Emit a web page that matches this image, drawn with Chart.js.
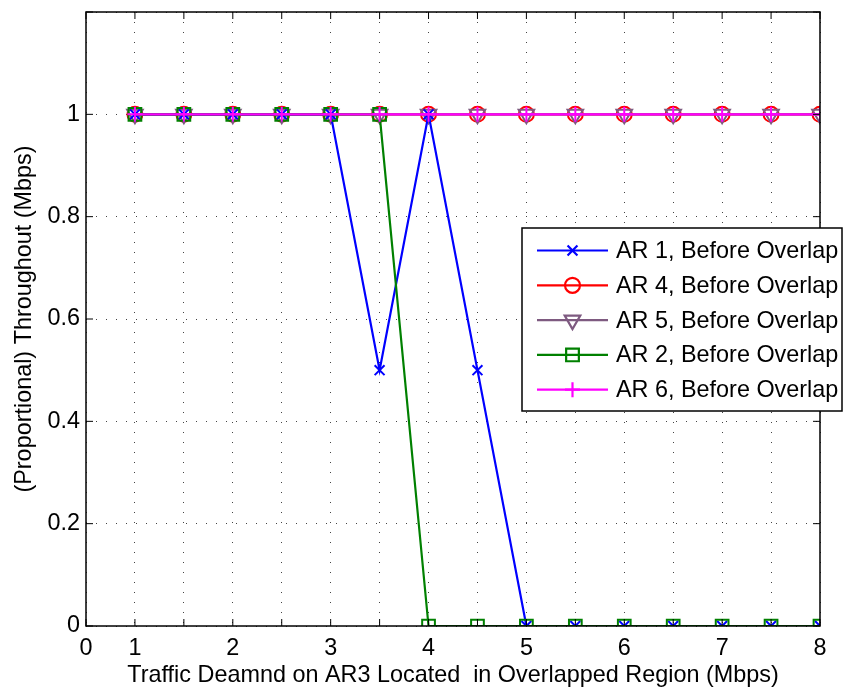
<!DOCTYPE html>
<html>
<head>
<meta charset="utf-8">
<style>
    body { margin: 0; background: #fff; }
    #wrap { width: 843px; height: 693px; }
</style>
<script src="https://cdn.jsdelivr.net/npm/chart.js@4/dist/chart.umd.min.js"></script>
</head>
<body>
<div id="wrap"><canvas id="throughputChart" width="843" height="693"></canvas></div>
<script>
const fontFamily = "'Liberation Sans', Arial, Helvetica, sans-serif";

// traffic demand on AR3 (Mbps)
const demand = [1, 1.5, 2, 2.5, 3, 3.5, 4, 4.5, 5, 5.5, 6, 6.5, 7, 7.5, 8];

const ar1 = [1, 1, 1, 1, 1, 0.5, 1, 0.5, 0, 0, 0, 0, 0, 0, 0];
const ar4 = [1, 1, 1, 1, 1, 1, 1, 1, 1, 1, 1, 1, 1, 1, 1];
const ar5 = [1, 1, 1, 1, 1, 1, 1, 1, 1, 1, 1, 1, 1, 1, 1];
const ar2 = [1, 1, 1, 1, 1, 1, 0, 0, 0, 0, 0, 0, 0, 0, 0];
const ar6 = [1, 1, 1, 1, 1, 1, 1, 1, 1, 1, 1, 1, 1, 1, 1];

const seriesNames = [
    "AR 1, Before Overlap",
    "AR 4, Before Overlap",
    "AR 5, Before Overlap",
    "AR 2, Before Overlap",
    "AR 6, Before Overlap"
];

const xTickValues = [0.5, 1, 1.5, 2, 2.5, 3, 3.5, 4, 4.5, 5, 5.5, 6, 6.5, 7, 7.5, 8];
const xTickLabels = ["0", "1", "", "2", "", "3", "", "4", "", "5", "", "6", "", "7", "", "8"];
const yTickValues = [0, 0.2, 0.4, 0.6, 0.8, 1, 1.2];
const yTickLabels = ["0", "0.2", "0.4", "0.6", "0.8", "1", ""];

function toPoints(values) {
    return values.map((v, i) => ({ x: demand[i], y: v }));
}

function series(label, values, color, style, radius, order, rotation) {
    return {
        label: label,
        data: toPoints(values),
        borderColor: color,
        backgroundColor: color,
        borderWidth: 2.2,
        pointStyle: style,
        pointRadius: radius,
        pointHoverRadius: radius,
        pointRotation: rotation || 0,
        pointBorderColor: color,
        pointBackgroundColor: "rgba(0,0,0,0)",
        pointBorderWidth: 2,
        tension: 0,
        fill: false,
        order: order
    };
}

function noPadding(scale) {
    scale.paddingTop = 0;
    scale.paddingBottom = 0;
    scale.paddingLeft = 0;
    scale.paddingRight = 0;
}

// box, inward ticks and legend, matlab style
const frameAndLegend = {
    id: "frameAndLegend",
    afterDraw(chart) {
        const ctx = chart.ctx;
        const area = chart.chartArea;
        const xs = chart.scales.x;
        const ys = chart.scales.y;
        ctx.save();
        ctx.strokeStyle = "#000";
        ctx.lineWidth = 1.5;
        ctx.setLineDash([]);
        ctx.strokeRect(area.left, area.top, area.right - area.left, area.bottom - area.top);

        ctx.lineWidth = 1;
        ctx.beginPath();
        xTickValues.forEach((v) => {
            const px = xs.getPixelForValue(v);
            ctx.moveTo(px, area.bottom); ctx.lineTo(px, area.bottom - 7);
            ctx.moveTo(px, area.top); ctx.lineTo(px, area.top + 7);
        });
        yTickValues.forEach((v) => {
            const py = ys.getPixelForValue(v);
            ctx.moveTo(area.left, py); ctx.lineTo(area.left + 7, py);
            ctx.moveTo(area.right, py); ctx.lineTo(area.right - 7, py);
        });
        ctx.stroke();

        // legend box
        const box = { left: 522, top: 228, right: 842, bottom: 411 };
        ctx.fillStyle = "#fff";
        ctx.fillRect(box.left, box.top, box.right - box.left, box.bottom - box.top);
        ctx.lineWidth = 1.5;
        ctx.strokeStyle = "#000";
        ctx.strokeRect(box.left, box.top, box.right - box.left, box.bottom - box.top);

        const rowGap = 34.8;
        ctx.font = "23.4px " + fontFamily;
        ctx.textBaseline = "middle";
        ctx.textAlign = "left";
        chart.data.datasets.forEach((ds, i) => {
            const y = 250.5 + i * rowGap;
            ctx.strokeStyle = ds.borderColor;
            ctx.lineWidth = 2.2;
            ctx.beginPath();
            ctx.moveTo(537, y);
            ctx.lineTo(608, y);
            ctx.stroke();
            ctx.fillStyle = "rgba(0,0,0,0)";
            Chart.helpers.drawPoint(ctx, {
                pointStyle: ds.pointStyle,
                radius: ds.pointRadius,
                rotation: ds.pointRotation,
                borderWidth: 2
            }, 572.5, y);
            ctx.fillStyle = "#000";
            ctx.fillText(ds.label, 616, y + 1);
        });
        ctx.restore();
    }
};

function buildChart() {
    const ref = document.getElementById("throughputChart");
    if (!ref || !window.Chart) {
        return;
    }

    new Chart(ref, {
        type: "line",
        data: {
            datasets: [
                series(seriesNames[0], ar1, "#0000ff", "crossRot", 7, 2),
                series(seriesNames[1], ar4, "#ff0000", "circle", 7.5, 4),
                series(seriesNames[2], ar5, "#7e5a80", "triangle", 9, 3, 180),
                series(seriesNames[3], ar2, "#008000", "rect", 9, 1),
                series(seriesNames[4], ar6, "#ff00ff", "cross", 7.5, 0)
            ]
        },
        options: {
            responsive: false,
            animation: false,
            layout: { padding: { left: 0, top: 12, right: 23, bottom: 0 } },
            plugins: {
                legend: { display: false },
                tooltip: { enabled: false }
            },
            scales: {
                x: {
                    type: "linear",
                    min: 0.5,
                    max: 8,
                    afterBuildTicks: (scale) => {
                        scale.ticks = xTickValues.map((v) => ({ value: v }));
                    },
                    afterFit: (scale) => {
                        scale.height = 67;
                        noPadding(scale);
                    },
                    ticks: {
                        autoSkip: false,
                        maxRotation: 0,
                        padding: 9,
                        color: "#000",
                        font: { family: fontFamily, size: 23.4 },
                        callback: (value) => {
                            const i = xTickValues.indexOf(value);
                            return i >= 0 ? xTickLabels[i] : "";
                        }
                    },
                    grid: {
                        color: "#444",
                        lineWidth: 1,
                        drawTicks: false
                    },
                    border: { display: false, dash: [1, 9] },
                    title: {
                        display: true,
                        text: "Traffic Deamnd on AR3 Located  in Overlapped Region (Mbps)",
                        color: "#000",
                        font: { family: fontFamily, size: 23.4 },
                        padding: { top: 0, bottom: 3 }
                    }
                },
                y: {
                    type: "linear",
                    min: 0,
                    max: 1.2,
                    afterBuildTicks: (scale) => {
                        scale.ticks = yTickValues.map((v) => ({ value: v }));
                    },
                    afterFit: (scale) => {
                        scale.width = 86;
                        noPadding(scale);
                    },
                    ticks: {
                        autoSkip: false,
                        padding: 6,
                        color: "#000",
                        font: { family: fontFamily, size: 23.4 },
                        callback: (value) => {
                            const i = yTickValues.findIndex((v) => Math.abs(v - value) < 1e-9);
                            return i >= 0 ? yTickLabels[i] : "";
                        }
                    },
                    grid: {
                        color: "#444",
                        lineWidth: 1,
                        drawTicks: false
                    },
                    border: { display: false, dash: [1, 9] },
                    title: {
                        display: true,
                        text: "(Proportional) Throughout (Mbps)",
                        color: "#000",
                        font: { family: fontFamily, size: 23.4 },
                        padding: { top: 11, bottom: 0 }
                    }
                }
            }
        },
        plugins: [frameAndLegend]
    });
}

document.addEventListener("DOMContentLoaded", buildChart);
</script>
</body>
</html>
